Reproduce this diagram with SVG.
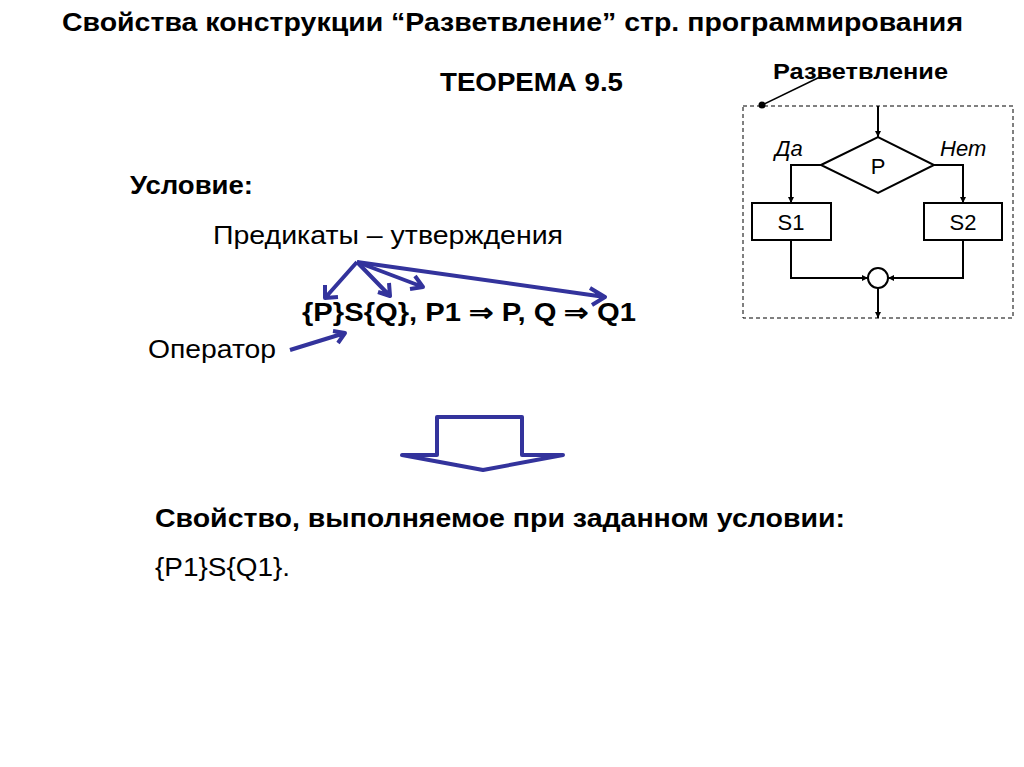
<svg xmlns="http://www.w3.org/2000/svg" width="1024" height="767" viewBox="0 0 1024 767">
<style>
text{font-family:"Liberation Sans",Arial,sans-serif;fill:#000}
.b{font-weight:bold}
.fc{fill:none;stroke:#000;stroke-width:2}
.bl{fill:none;stroke:#33339c;stroke-width:4;stroke-linejoin:round}
</style>
<defs>
<marker id="a" viewBox="0 0 10 10" refX="10" refY="5" markerWidth="6" markerHeight="6" orient="auto" markerUnits="userSpaceOnUse"><path d="M0,0L10,5L0,10z" fill="#000"/></marker>
</defs>
<rect width="1024" height="767" fill="#fff"/>
<text class="b" x="62" y="31" font-size="25" textLength="901" lengthAdjust="spacingAndGlyphs">Свойства конструкции “Разветвление” стр. программирования</text>
<text class="b" x="440" y="91" font-size="25" textLength="183" lengthAdjust="spacingAndGlyphs">ТЕОРЕМА 9.5</text>
<text class="b" x="130" y="194" font-size="25" textLength="123" lengthAdjust="spacingAndGlyphs">Условие:</text>
<text x="213" y="244" font-size="25" textLength="350" lengthAdjust="spacingAndGlyphs">Предикаты – утверждения</text>
<text class="b" x="302" y="321" font-size="25" textLength="334" lengthAdjust="spacingAndGlyphs">{P}S{Q}, P1 ⇒ P, Q ⇒ Q1</text>
<text x="148" y="358" font-size="25" textLength="128" lengthAdjust="spacingAndGlyphs">Оператор</text>
<text class="b" x="155" y="527" font-size="25" textLength="690" lengthAdjust="spacingAndGlyphs">Свойство, выполняемое при заданном условии:</text>
<text x="155" y="576" font-size="25" textLength="135" lengthAdjust="spacingAndGlyphs">{P1}S{Q1}.</text>
<g id="blue-arrows" class="bl">
<path d="M357,262L325,298M325,285L325,298L338,297"/>
<path d="M357,262L390,296M378,292L390,296L389,283"/>
<path d="M357,262L423,287M410,289L423,287L415,276"/>
<path d="M357,262L605,297M590,288L605,297L592,305"/>
<path d="M290,350L345,333M333,331L345,333L338,343"/>
<path d="M437,455V417H522V455H563L483,470L402,455Z" stroke-width="4"/>
</g>
<g id="flowchart">
<rect x="743" y="106" width="270" height="212" fill="none" stroke="#000" stroke-width="1" stroke-dasharray="4,3"/>
<text class="b" x="773" y="79" font-size="22" textLength="175" lengthAdjust="spacingAndGlyphs">Разветвление</text>
<circle cx="762" cy="105" r="3.5" fill="#000"/>
<line x1="762" y1="105" x2="822" y2="76" stroke="#000" stroke-width="1.5"/>
<g id="cond"><path class="fc" d="M821,165L878,137L934,165L878,193Z"/><text x="878" y="174" font-size="22" text-anchor="middle">P</text></g>
<g id="s1"><rect class="fc" x="752" y="203" width="79" height="37"/><text x="791" y="230" font-size="22" text-anchor="middle">S1</text></g>
<g id="s2"><rect class="fc" x="924" y="203" width="78" height="37"/><text x="963" y="230" font-size="22" text-anchor="middle">S2</text></g>
<g id="join"><circle class="fc" cx="878" cy="278" r="10" fill="#fff"/></g>
<text x="775" y="156" font-size="22" font-style="italic">Да</text>
<text x="940" y="156" font-size="22" font-style="italic">Нет</text>
<g id="connectors" fill="none" stroke="#000" stroke-width="2">
<path d="M878,106V137" marker-end="url(#a)"/>
<path d="M821,165H791V203" marker-end="url(#a)"/>
<path d="M934,165H963V203" marker-end="url(#a)"/>
<path d="M791,240V278H868" marker-end="url(#a)"/>
<path d="M963,240V278H888" marker-end="url(#a)"/>
<path d="M878,288V318" marker-end="url(#a)"/>
</g>
</g>
</svg>
